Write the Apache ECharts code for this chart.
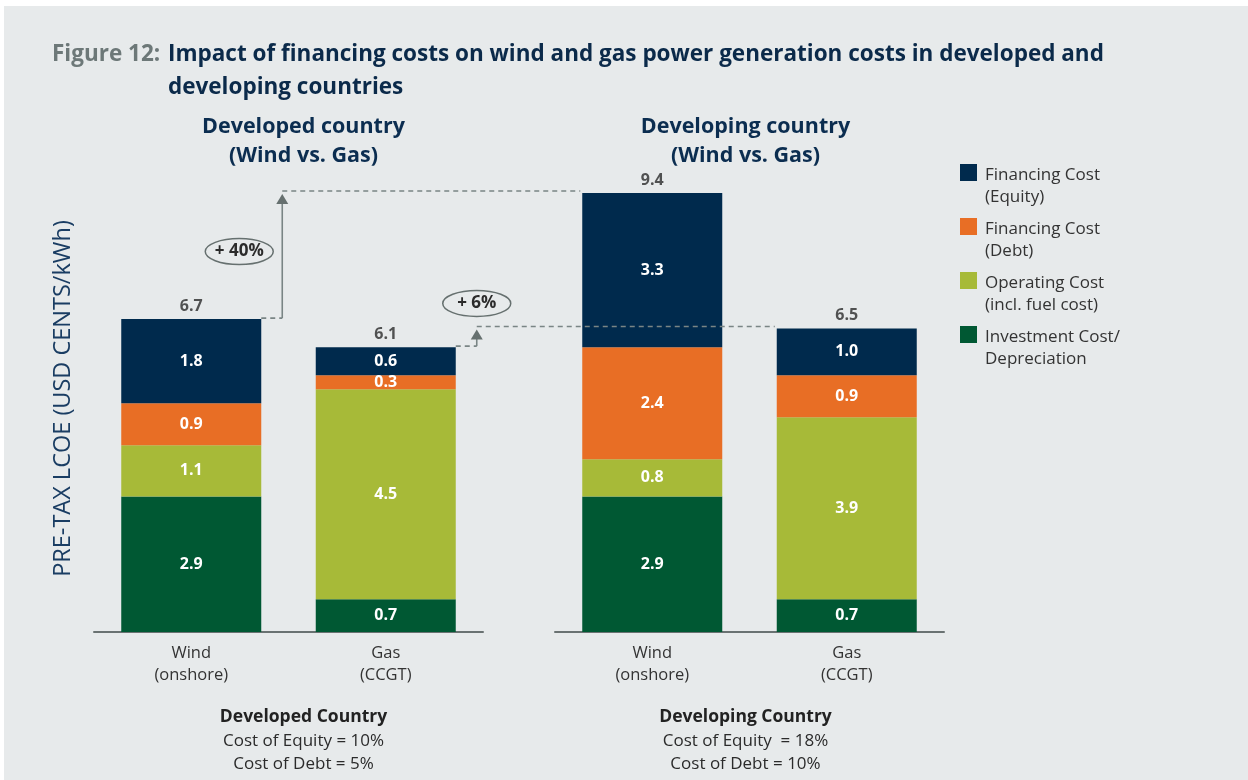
<!DOCTYPE html>
<html>
<head>
<meta charset="utf-8">
<script src="https://cdn.jsdelivr.net/npm/echarts@6/dist/echarts.min.js"></script>
<style>
  html, body { margin: 0; padding: 0; background: #fff; }
  #main { width: 1248px; height: 780px; }
</style>
</head>
<body>
<div id="main"></div>
<script>
var chartDom = document.getElementById('main');
var myChart = echarts.init(chartDom);

// Categories
const techs = ['Wind\n(onshore)', 'Gas\n(CCGT)'];
const components = [
    'Investment Cost/\nDepreciation',
    'Operating Cost\n(incl. fuel cost)',
    'Financing Cost\n(Debt)',
    'Financing Cost\n(Equity)'
];

// Values, [developed, developing], each [wind, gas]
const investment = [[2.9, 0.7], [2.9, 0.7]];
const operating  = [[1.1, 4.5], [0.8, 3.9]];
const debt       = [[0.9, 0.3], [2.4, 0.9]];
const equity     = [[1.8, 0.6], [3.3, 1.0]];
const totals     = [[6.7, 6.1], [9.4, 6.5]];
const increases  = ['+ 40%', '+ 6%'];

const groupTitles = ['Developed country\n(Wind vs. Gas)', 'Developing country\n(Wind vs. Gas)'];
const groupNotes = [
    ['Developed Country', 'Cost of Equity = 10%', 'Cost of Debt = 5%'],
    ['Developing Country', 'Cost of Equity  = 18%', 'Cost of Debt = 10%']
];

const colors = ['#005833', '#a7ba38', '#e86e25', '#002a4d'];
const font = "'Open Sans', 'Noto Sans', sans-serif";
const BAR_W = 140;

const grids = [
    { left: 94, top: 165, width: 389, height: 467 },
    { left: 555, top: 165, width: 389, height: 467 }
];

var series = [];
[investment, operating, debt, equity].forEach(function (arr, k) {
    [0, 1].forEach(function (g) {
        series.push({
            name: components[k],
            type: 'bar',
            stack: 'g' + g,
            xAxisIndex: g,
            yAxisIndex: g,
            barWidth: BAR_W,
            itemStyle: { color: colors[k] },
            label: {
                show: true,
                position: 'inside',
                color: '#fff',
                fontFamily: font,
                fontWeight: 'bold',
                fontSize: 16,
                formatter: function (p) { return p.value.toFixed(1); }
            },
            data: arr[g]
        });
    });
});
// totals above each bar
[0, 1].forEach(function (g) {
    series.push({
        type: 'scatter',
        xAxisIndex: g,
        yAxisIndex: g,
        symbolSize: 0,
        silent: true,
        label: {
            show: true,
            position: 'top',
            distance: 5,
            color: '#2b2b2b',
            fontFamily: font,
            fontWeight: 'bold',
            fontSize: 16,
            formatter: function (p) { return p.value.toFixed(1); }
        },
        data: totals[g]
    });
});

var option = {
    backgroundColor: '#ffffff',
    animation: false,
    title: [
        {
            text: 'Figure 12:',
            left: 52, top: 38.5, padding: 0,
            textStyle: { color: '#6d7878', fontFamily: font, fontWeight: 'bold', fontSize: 22.5, lineHeight: 33 }
        },
        {
            text: 'Impact of financing costs on wind and gas power generation costs in developed and\ndeveloping countries',
            left: 168, top: 38.5, padding: 0,
            textStyle: { color: '#0b2a4a', fontFamily: font, fontWeight: 'bold', fontSize: 22.5, lineHeight: 33 }
        }
    ],
    legend: {
        orient: 'vertical',
        left: 960,
        top: 164,
        padding: 0,
        itemGap: 10,
        itemWidth: 17,
        itemHeight: 44,
        // square sits in the upper part of the icon box so it lines up with the first text line
        icon: 'path://M0,0h17v17h-17z M17,44',
        selectedMode: false,
        data: components.slice().reverse(),
        textStyle: {
            color: '#333', fontFamily: font, fontSize: 17, lineHeight: 22,
            padding: [0, 0, 0, 3]
        }
    },
    grid: grids,
    xAxis: [0, 1].map(function (g) {
        return {
            type: 'category',
            gridIndex: g,
            data: techs,
            axisTick: { show: false },
            axisLine: { lineStyle: { color: '#6a7272', width: 2 } },
            axisLabel: { color: '#333', fontFamily: font, fontSize: 16.5, lineHeight: 22, margin: 10 }
        };
    }),
    yAxis: [0, 1].map(function (g) {
        return {
            type: 'value',
            gridIndex: g,
            min: 0,
            max: 10,
            show: g === 0,
            axisLine: { show: false },
            axisTick: { show: false },
            axisLabel: { show: false },
            splitLine: { show: false },
            name: g === 0 ? 'PRE-TAX LCOE (USD CENTS/kWh)' : '',
            nameLocation: 'middle',
            nameGap: 19,
            nameRotate: 90,
            nameTextStyle: { color: '#1a3d63', fontFamily: font, fontSize: 23.5 }
        };
    }),
    series: series
};

myChart.setOption(option);

// annotations: background, group titles, notes, connectors
var elements = [
    { type: 'rect', z: -100, silent: true, shape: { x: 4, y: 6, width: 1244, height: 774 }, style: { fill: '#e7eaeb' } }
];
[0, 1].forEach(function (g) {
    var mid = grids[g].left + grids[g].width / 2 + (g === 0 ? 15 : -4);
    elements.push({
        type: 'text', x: mid, y: 112,
        style: { text: groupTitles[g], align: 'center', fill: '#0b2d50', font: 'bold 21.5px ' + font, lineHeight: 29 }
    });
    elements.push({
        type: 'text', x: mid, y: 708,
        style: { text: groupNotes[g][0], align: 'center', fill: '#222', font: 'bold 17.5px ' + font }
    });
    elements.push({
        type: 'text', x: mid, y: 730,
        style: { text: groupNotes[g][1] + '\n' + groupNotes[g][2], align: 'center', fill: '#2b2b2b', font: '17px ' + font, lineHeight: 23 }
    });
});

var dash = { stroke: '#7a8585', lineWidth: 1.6, lineDash: [5, 4] };
[0, 1].forEach(function (i) {
    var p0 = myChart.convertToPixel({ xAxisIndex: 0, yAxisIndex: 0 }, [i, totals[0][i]]);
    var p1 = myChart.convertToPixel({ xAxisIndex: 1, yAxisIndex: 1 }, [i, totals[1][i]]);
    var xr = p0[0] + BAR_W / 2;
    var ax = xr + 21;
    var y0 = p0[1] - 1;
    var yTop = p1[1] - 2;
    var tip = yTop + 3;
    elements.push({ type: 'line', z: 50, shape: { x1: xr, y1: y0, x2: ax, y2: y0 }, style: dash });
    elements.push({ type: 'line', z: 50, shape: { x1: ax, y1: y0, x2: ax, y2: tip + 8 }, style: { stroke: '#7a8585', lineWidth: 1.6 } });
    elements.push({ type: 'polygon', z: 50, shape: { points: [[ax, tip], [ax - 6, tip + 10], [ax + 6, tip + 10]] }, style: { fill: '#66706f' } });
    elements.push({ type: 'line', z: 50, shape: { x1: ax, y1: yTop, x2: p1[0] - BAR_W / 2 - 2, y2: yTop }, style: dash });
    var ex = i === 0 ? ax - 43 : ax;
    var ey = i === 0 ? (y0 + yTop) / 2 - 3 : yTop - 23;
    elements.push({ type: 'ellipse', z: 50, shape: { cx: ex, cy: ey, rx: 34, ry: 13 }, style: { fill: 'none', stroke: '#66706f', lineWidth: 1.5 } });
    elements.push({
        type: 'text', z: 51, x: ex, y: ey,
        style: { text: increases[i], align: 'center', verticalAlign: 'middle', fill: '#2b2b2b', font: 'bold 17px ' + font }
    });
});

myChart.setOption({ graphic: { elements: elements } });
</script>
</body>
</html>
